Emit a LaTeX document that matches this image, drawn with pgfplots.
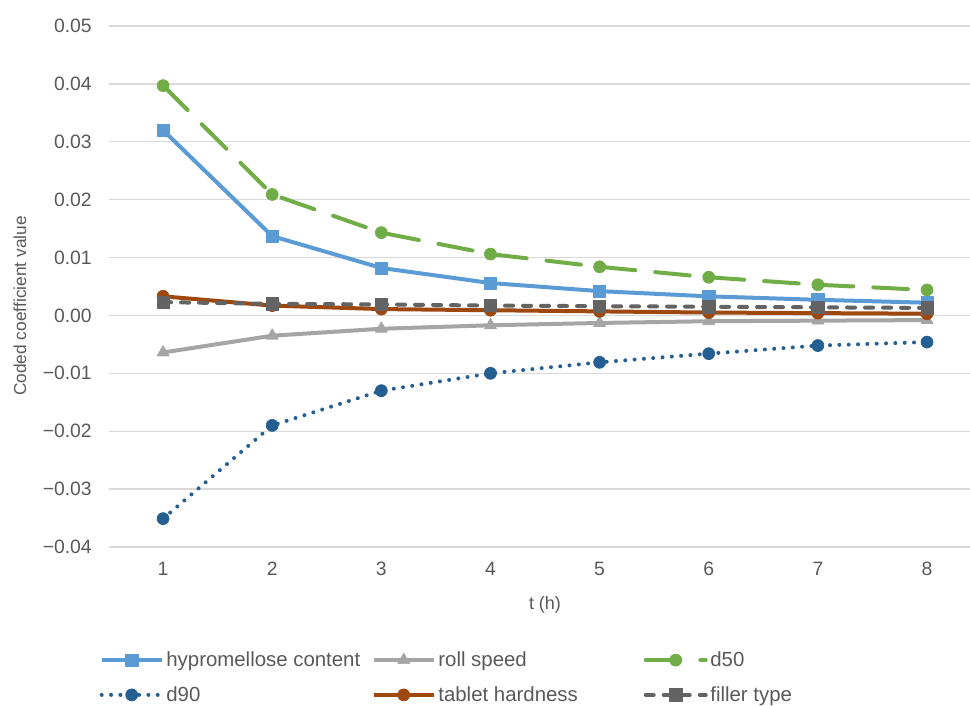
\documentclass[border=0pt]{standalone}
\usepackage{pgfplots}
\pgfplotsset{compat=1.18}
\usepackage{fontspec}
\setmainfont{Liberation Sans}
\definecolor{cHyp}{HTML}{5B9BD5}
\definecolor{cRoll}{HTML}{A5A5A5}
\definecolor{cDfifty}{HTML}{70AD47}
\definecolor{cDninety}{HTML}{255E91}
\definecolor{cTab}{HTML}{9E480E}
\definecolor{cFill}{HTML}{636363}
\definecolor{txtgray}{HTML}{595959}
\definecolor{gridgray}{HTML}{D9D9D9}
\begin{document}
\begin{tikzpicture}
\useasboundingbox (0pt,0pt) rectangle (727.5pt,529.5pt);
\begin{axis}[
  at={(81.375pt,119.25pt)}, anchor=south west,
  scale only axis, width=646.125pt, height=390.75pt,
  xmin=0.5, xmax=8.394, ymin=-0.04, ymax=0.05,
  scaled y ticks=false,
  axis line style={draw=none},
  major tick length=0pt,
  tick style={draw=none},
  ymajorgrids, major grid style={color=gridgray, line width=1pt},
  ytick={-0.04,-0.03,-0.02,-0.01,0,0.01,0.02,0.03,0.04,0.05},
  yticklabels={−0.04,−0.03,−0.02,−0.01,0.00,0.01,0.02,0.03,0.04,0.05},
  xtick={1,2,3,4,5,6,7,8},
  xticklabels={1,2,3,4,5,6,7,8},
  ticklabel style={font=\fontsize{14.5}{17}\selectfont, text=txtgray},
  yticklabel style={anchor=east, inner sep=0pt, xshift=-12.4pt},
  xticklabel style={anchor=base, inner sep=0pt, yshift=-21.75pt},
  legend columns=3,
  legend cell align=left,
  legend style={at={(-0.0105,-0.2505)}, anchor=west, draw=none, fill=none,
    inner sep=0pt, row sep=13.5pt, column sep=0pt,
    font=\fontsize{15.3}{18}\selectfont, text=txtgray,
    nodes={inner sep=0pt}},
  legend image code/.code={\draw[mark repeat=2,mark phase=2] plot coordinates {(0pt,0pt) (22.5pt,0pt) (45pt,0pt)};},
  every axis plot/.append style={line width=3pt, line join=round},
]
\addplot[color=cHyp, mark=square*, mark size=4.6pt, mark options={solid, fill=cHyp, line width=0.5pt}]
  coordinates {(1,0.0320)(2,0.0137)(3,0.0082)(4,0.0056)(5,0.0042)(6,0.0033)(7,0.0027)(8,0.0022)};
\addlegendentry{\makebox[156pt][l]{\hspace{2pt}hypromellose content}}
\addplot[color=cRoll, mark=triangle*, mark size=5.2pt, mark options={solid, fill=cRoll, line width=0.5pt}]
  coordinates {(1,-0.0064)(2,-0.0035)(3,-0.0023)(4,-0.0017)(5,-0.0013)(6,-0.0010)(7,-0.0009)(8,-0.0008)};
\addlegendentry{\makebox[156pt][l]{\hspace{2pt}roll speed}}
\addplot[color=cDfifty, dash pattern=on 26pt off 15pt, line cap=round, mark=*, mark size=4.5pt, mark options={solid, fill=cDfifty, line width=0.5pt}]
  coordinates {(1,0.0397)(2,0.0209)(3,0.0143)(4,0.0106)(5,0.0084)(6,0.0066)(7,0.0053)(8,0.0044)};
\addlegendentry{\makebox[156pt][l]{\hspace{2pt}d50}}
\addplot[color=cDninety, dash pattern=on 0pt off 7pt, line cap=round, mark=*, mark size=4.5pt, mark options={solid, fill=cDninety, line width=0.5pt}]
  coordinates {(1,-0.0351)(2,-0.0190)(3,-0.0130)(4,-0.0100)(5,-0.0081)(6,-0.0066)(7,-0.0052)(8,-0.0046)};
\addlegendentry{\makebox[156pt][l]{\hspace{2pt}d90}}
\addplot[color=cTab, mark=*, mark size=4.5pt, mark options={solid, fill=cTab, line width=0.5pt}]
  coordinates {(1,0.0033)(2,0.0017)(3,0.0011)(4,0.0009)(5,0.0007)(6,0.0005)(7,0.0004)(8,0.0003)};
\addlegendentry{\makebox[156pt][l]{\hspace{2pt}tablet hardness}}
\addplot[color=cFill, dash pattern=on 6pt off 7.5pt, line cap=round, mark=square*, mark size=4.6pt, mark options={solid, fill=cFill, line width=0.5pt}]
  coordinates {(1,0.0023)(2,0.0020)(3,0.0019)(4,0.0017)(5,0.0016)(6,0.0015)(7,0.0014)(8,0.0013)};
\addlegendentry{\makebox[156pt][l]{\hspace{2pt}filler type}}
\end{axis}
\node[rotate=90, font=\fontsize{13}{15}\selectfont, text=txtgray] at (15pt,300pt) {Coded coefficient value};
\node[font=\fontsize{13.5}{16}\selectfont, text=txtgray] at (408.75pt,76pt) {t (h)};
\end{tikzpicture}
\end{document}
